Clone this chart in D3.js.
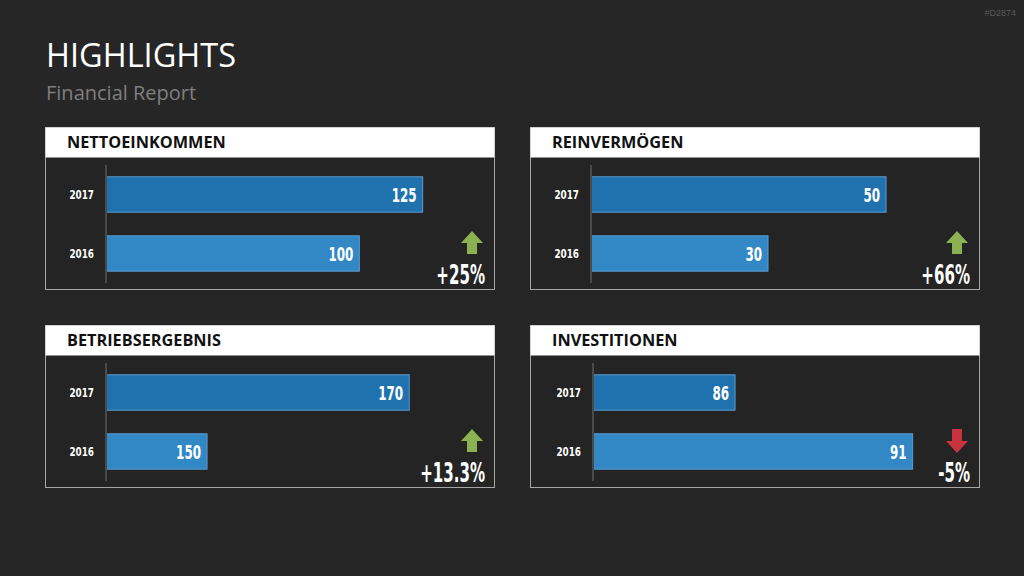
<!DOCTYPE html>
<meta charset="utf-8">
<style>
  body { margin: 0; background: #262626; }
  svg { display: block; }
  .cond { font-family: "DejaVu Sans Condensed", "DejaVu Sans"; font-stretch: condensed; font-weight: 700; }
</style>
<body>
<script src="https://d3js.org/d3.v7.min.js"></script>
<script>
    // Kennzahlen je Kachel
    var titles = ["NETTOEINKOMMEN", "REINVERMÖGEN", "BETRIEBSERGEBNIS", "INVESTITIONEN"];
    var years = ["2017", "2016"];
    var values2017 = [125, 50, 170, 86];
    var values2016 = [100, 30, 150, 91];
    var axisMin = [0, 0, 140, 82];
    var axisMax = [150, 64.4, 177.6, 92.7];
    var changes = ["+25%", "+66%", "+13.3%", "-5%"];
    var trend = ["up", "up", "up", "down"];

    var svg = d3.select("body").append("svg")
        .attr("width", 1024)
        .attr("height", 576);

    svg.append("rect").attr("width", 1024).attr("height", 576).attr("fill", "#262626");

    svg.append("text")
        .attr("x", 46).attr("y", 67)
        .attr("font-family", "Open Sans").attr("font-size", 32.5)
        .attr("fill", "#ffffff")
        .text("HIGHLIGHTS");

    svg.append("text")
        .attr("x", 46).attr("y", 100)
        .attr("font-family", "Open Sans").attr("font-size", 20)
        .attr("fill", "#7f7f7f")
        .text("Financial Report");

    svg.append("text")
        .attr("x", 1016).attr("y", 16)
        .attr("text-anchor", "end")
        .attr("font-family", "Liberation Sans").attr("font-size", 9)
        .attr("fill", "#5a5a5a")
        .text("#D2874");

    var panelX = [45, 530, 45, 530];
    var panelY = [127, 127, 325, 325];
    var axisOffset = [61, 61, 61, 63];
    var pw = 449, ph = 162, headH = 30;

    titles.forEach(function(title, i) {
        var g = svg.append("g")
            .attr("transform", "translate(" + panelX[i] + "," + panelY[i] + ")");

        g.append("rect")
            .attr("x", 0.5).attr("y", 0.5)
            .attr("width", pw).attr("height", ph)
            .attr("fill", "#242424")
            .attr("stroke", "#a6a6a6").attr("stroke-width", 1);

        g.append("rect")
            .attr("x", 0.5).attr("y", 0.5)
            .attr("width", pw).attr("height", headH)
            .attr("fill", "#ffffff");

        g.append("text")
            .attr("x", 22).attr("y", 21)
            .attr("font-family", "Open Sans").attr("font-weight", 700)
            .attr("font-size", 16.3)
            .attr("fill", "#111111")
            .text(title);

        var ax = axisOffset[i];
        var x = d3.scaleLinear().domain([axisMin[i], axisMax[i]]).range([ax, ax + 380]);
        var y = d3.scaleBand().domain(years).range([38, 156]).paddingInner(0.4).paddingOuter(0.2);

        var rows = [
            {year: "2017", value: values2017[i], color: "#1f72ad"},
            {year: "2016", value: values2016[i], color: "#3188c5"}
        ];

        g.selectAll(".bar").data(rows).enter().append("rect")
            .attr("x", x(axisMin[i]))
            .attr("y", function(d) { return y(d.year); })
            .attr("width", function(d) { return x(d.value) - x(axisMin[i]); })
            .attr("height", y.bandwidth())
            .attr("fill", function(d) { return d.color; })
            .attr("stroke", "#5b9bd0").attr("stroke-width", 1);

        g.append("line")
            .attr("x1", ax).attr("x2", ax)
            .attr("y1", 38).attr("y2", 156)
            .attr("stroke", "#4a4a4a").attr("stroke-width", 2);

        g.selectAll(".val").data(rows).enter().append("text")
            .attr("class", "cond")
            .attr("transform", function(d) {
                return "translate(" + (x(d.value) - 6) + "," + (y(d.year) + y.bandwidth() / 2 + 7) + ") scale(0.7,1)";
            })
            .attr("text-anchor", "end")
            .attr("font-size", 19)
            .attr("fill", "#ffffff")
            .text(function(d) { return d.value; });

        g.selectAll(".yr").data(rows).enter().append("text")
            .attr("class", "cond")
            .attr("transform", function(d) {
                return "translate(" + (ax - 12) + "," + (y(d.year) + y.bandwidth() / 2 + 4.5) + ") scale(0.8,1)";
            })
            .attr("text-anchor", "end")
            .attr("font-size", 12.3)
            .attr("fill", "#ffffff")
            .text(function(d) { return d.year; });

        // Pfeil
        var arrow = trend[i] === "up"
            ? "M427,104 L438,116 L432,116 L432,127 L422,127 L422,116 L416,116 Z"
            : "M427,128 L438,116 L432,116 L432,104 L422,104 L422,116 L416,116 Z";
        g.append("path")
            .attr("d", arrow)
            .attr("fill", trend[i] === "up" ? "#8cb153" : "#c8333d");

        g.append("text")
            .attr("class", "cond")
            .attr("transform", "translate(440,157) scale(0.62,1)")
            .attr("text-anchor", "end")
            .attr("font-size", 27)
            .attr("fill", "#ffffff")
            .text(changes[i]);
    });
</script>
</body>
